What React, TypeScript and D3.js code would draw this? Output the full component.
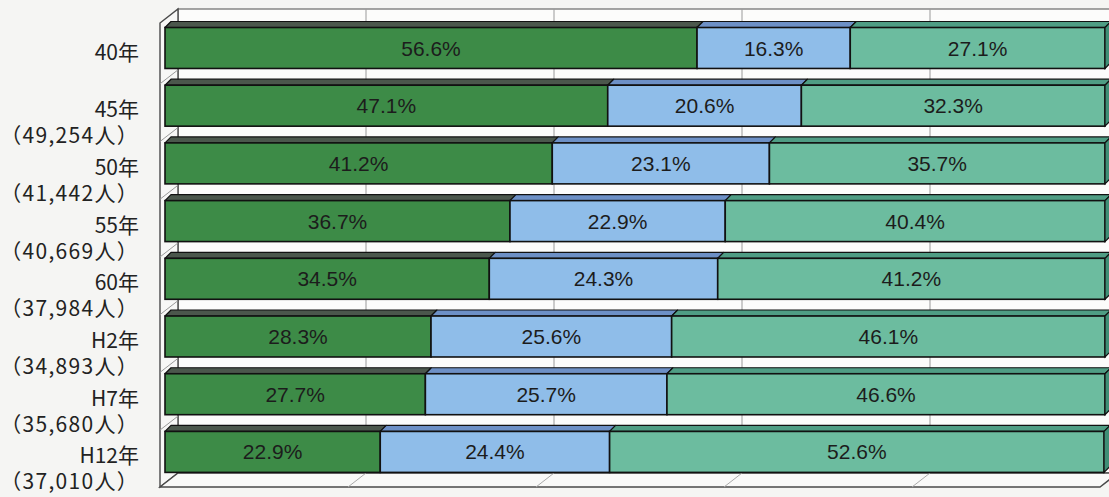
import React from "react";
import * as d3 from "d3";

// categories and their head counts (40年 has none printed)
const categories = ["40年", "45年", "50年", "55年", "60年", "H2年", "H7年", "H12年"];
const headCounts = ["", "（49,254人）", "（41,442人）", "（40,669人）", "（37,984人）", "（34,893人）", "（35,680人）", "（37,010人）"];

// three shares per year (%)
const share1 = [56.6, 47.1, 41.2, 36.7, 34.5, 28.3, 27.7, 22.9];
const share2 = [16.3, 20.6, 23.1, 22.9, 24.3, 25.6, 25.7, 24.4];
const share3 = [27.1, 32.3, 35.7, 40.4, 41.2, 46.1, 46.6, 52.6];

const gridTicks = [0, 20, 40, 60, 80, 100];

const W = 1109;
const H = 497;

const seriesKeys = ["s1", "s2", "s3"];
const frontColors = ["#3d8b47", "#8fbde9", "#6cbc9f"];
const topColors = ["#4b574c", "#6d90c6", "#4f9d84"];

const App = () => {
  const rows = categories.map((c, i) => ({ cat: c, s1: share1[i], s2: share2[i], s3: share3[i] }));
  const stacked = d3.stack<any>().keys(seriesKeys)(rows);

  // frame geometry
  const x = d3.scaleLinear().domain([0, 100]).range([160, 1100]);
  const backDX = 18, backDY = -14;
  const frameTop = 23, floorY = 487;

  const y = d3.scaleBand<string>().domain(categories).range([27.5, 472.4]).paddingInner(0.29);
  const bw = y.bandwidth();

  // bar front face sits a little inside the frame, bar depth
  const offX = 5;
  const dX = 6, dY = -6;

  const bx = (v: number) => x(v) + offX;

  const labelFont = "'Noto Sans CJK JP', 'Noto Sans', sans-serif";
  const valueFont = "'Liberation Sans Narrow', 'Liberation Sans', Arial, sans-serif";

  return (
    <svg width={W} height={H} style={{ position: "absolute", left: 0, top: 0, background: "#f5f5f3" }}>
      {/* back wall */}
      <rect x={x(0) + backDX} y={frameTop + backDY} width={x(100) - x(0)} height={floorY - frameTop}
        fill="#fcfcfb" stroke="#6a6a6a" strokeWidth={1.2} />
      {/* left wall */}
      <path d={`M${x(0)},${frameTop} L${x(0) + backDX},${frameTop + backDY} L${x(0) + backDX},${floorY + backDY} L${x(0)},${floorY} Z`}
        fill="#f7f7f6" stroke="#4a4a4a" strokeWidth={1.4} />
      {/* floor */}
      <path d={`M${x(0)},${floorY} L${x(100)},${floorY} L${x(100) + backDX},${floorY + backDY} L${x(0) + backDX},${floorY + backDY} Z`}
        fill="#f9f9f8" stroke="#4a4a4a" strokeWidth={1.4} />

      {/* grid lines */}
      {gridTicks.slice(1, -1).map(t => (
        <g key={t}>
          <line x1={x(t) + backDX} x2={x(t) + backDX} y1={frameTop + backDY} y2={floorY + backDY} stroke="#9a9a9a" strokeWidth={1} />
          <line x1={x(t)} x2={x(t) + backDX} y1={floorY} y2={floorY + backDY} stroke="#aaa" strokeWidth={1} />
        </g>
      ))}

      {/* category separators on the left wall */}
      {categories.slice(0, -1).map(c => {
        const yb = (y(c) as number) + bw + (y.step() - bw) / 2;
        return <line key={c} x1={x(0)} y1={yb + 7} x2={x(0) + backDX} y2={yb - 7} stroke="#999" strokeWidth={1} />;
      })}

      {/* bars */}
      {categories.map((c, i) => {
        const y0 = y(c) as number;
        const y1 = y0 + bw;
        return (
          <g key={c}>
            {stacked.map((s, k) => {
              const a = bx(s[i][0]);
              const b = bx(s[i][1]);
              const last = k === stacked.length - 1;
              return (
                <g key={k}>
                  <path d={`M${a},${y0} L${a + dX},${y0 + dY} L${b + dX},${y0 + dY} L${b},${y0} Z`}
                    fill={topColors[k]} stroke="#111" strokeWidth={1.2} strokeLinejoin="round" />
                  <rect x={a} y={y0} width={b - a} height={bw} fill={frontColors[k]} stroke="#111" strokeWidth={1.6} />
                  {last && (
                    <path d={`M${b},${y0} L${b + dX},${y0 + dY} L${b + dX},${y1 + dY} L${b},${y1} Z`}
                      fill="#3f8f76" stroke="#111" strokeWidth={1.2} />
                  )}
                  <text x={(a + b) / 2} y={y0 + bw / 2} dy="0.36em" textAnchor="middle"
                    fontFamily={valueFont} fontSize={21} fill="#1c1c1c">
                    {`${(s[i][1] - s[i][0]).toFixed(1)}%`}
                  </text>
                </g>
              );
            })}
          </g>
        );
      })}

      {/* category labels */}
      {categories.map((c, i) => {
        const cy = (y(c) as number) + bw / 2;
        return (
          <g key={c} fontFamily={labelFont} fill="#222" textAnchor="end">
            <text x={139} y={cy + 4} dy="0.36em" fontSize={21}>{c}</text>
            {headCounts[i] && (
              <text x={139} y={cy + 30} dy="0.36em" fontSize={21} letterSpacing={1.3}>{headCounts[i]}</text>
            )}
          </g>
        );
      })}
    </svg>
  );
};

export default App;
